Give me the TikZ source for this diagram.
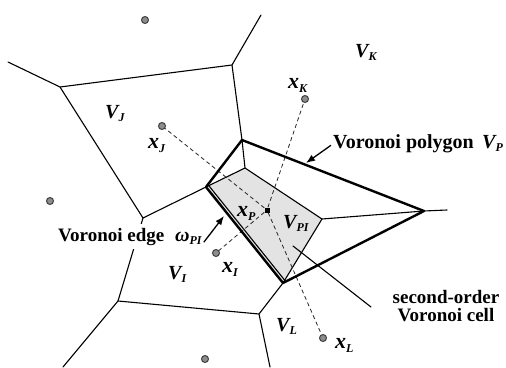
\documentclass[tikz,border=0pt]{standalone}
\usepackage{fontspec}
\setmainfont{Liberation Serif}
\usetikzlibrary{arrows.meta}

\providecommand{\vorEdgeWidth}{1.1pt}
\providecommand{\vorPolyWidth}{2.4pt}
\providecommand{\vorCellColor}{black!11}
\newcommand{\vsub}[1]{\raisebox{-0.4ex}{\fontsize{12}{12}\selectfont #1}}

\tikzset{
  voredge/.style={draw=black, line width=\vorEdgeWidth, line cap=round, line join=round},
  polyedge/.style={draw=black, line width=\vorPolyWidth, line cap=round, line join=round},
  siteline/.style={draw=black!85, line width=0.8pt, dash pattern=on 4pt off 3pt},
  sitedot/.style={circle, fill=black!45, draw=black!75, line width=1pt, inner sep=0pt, minimum size=7pt},
  centerdot/.style={rectangle, fill=black, inner sep=0pt, minimum size=5pt},
  sitelab/.style={font=\fontsize{22}{24}\selectfont\bfseries\itshape, inner sep=0pt, anchor=base west},
  celllab/.style={font=\fontsize{20}{22}\selectfont\bfseries\itshape, inner sep=0pt, anchor=base west},
  textlab/.style={font=\fontsize{19}{18}\selectfont\bfseries, inner sep=0pt, anchor=base west},
  pointer/.style={-{Latex[length=9pt,width=7pt]}, line width=1.3pt}
}

\begin{document}
\begin{tikzpicture}[x=1pt, y=-1pt]
\useasboundingbox (0,0) rectangle (506,367);
% Voronoi vertices
\coordinate (vA) at (8,62);
\coordinate (vB) at (60,87);
\coordinate (vC) at (232,65);
\coordinate (vD) at (261,15);
\coordinate (vE) at (242,140);
\coordinate (vF) at (143,218);
\coordinate (vG) at (206,187);
\coordinate (vH) at (118,301);
\coordinate (vI) at (63,367);
\coordinate (vJ) at (259,314);
\coordinate (vK) at (270,367);
\coordinate (vL) at (283,283);
\coordinate (vT) at (245,168);
\coordinate (vR) at (322,219);
\coordinate (vM) at (424,211);
\coordinate (vN) at (447,210);
% Second-order cell (shaded)
\fill[\vorCellColor] (vG) -- (vT) -- (vR) -- (vL) -- cycle;
% Thin Voronoi edges
\begin{scope}[voredge]
  \draw (vA) -- (vB) -- (vC) -- (vD);
  \draw (vC) -- (vE) -- (vT);
  \draw (vB) -- (vF) -- (vG);
  \draw (vF) -- (vH) -- (vI);
  \draw (vH) -- (vJ) -- (vK);
  \draw (vJ) -- (vL);
  \draw (vG) -- (vT) -- (vR) -- (vL);
  \draw (vR) -- (vM) -- (vN);
  \draw ([shift={(2.4,-1.9)}]vG) -- ([shift={(2.4,-1.9)}]vL);
\end{scope}
% Sites
\node[sitedot] (sTop) at (145,20) {};
\node[sitedot] (sLeft) at (50,201) {};
\node[sitedot] (sBot) at (205,359) {};
\node[sitedot] (sJ) at (162,126) {};
\node[sitedot] (sK) at (305,99) {};
\node[sitedot] (sI) at (216,253) {};
\node[sitedot] (sL) at (323,338) {};
\node[centerdot] (sP) at (267,210) {};
% Links from x_P to its neighbours
\begin{scope}[siteline]
  \draw (sP) -- (sJ);
  \draw (sP) -- (sK);
  \draw (sP) -- (sI);
  \draw (sP) -- (sL);
\end{scope}
% Voronoi polygon V_P
\draw[polyedge] (vG) -- (vE) -- (vM) -- (vL) -- cycle;
% Labels
\node[celllab] (labVK) at (355,57) {V\vsub{K}};
\node[celllab] (labVJ) at (105,118) {V\vsub{J}};
\node[celllab] (labVPI) at (283,228) {V\vsub{PI}};
\node[celllab] (labVI) at (168,279) {V\vsub{I}};
\node[celllab] (labVL) at (276,331) {V\vsub{L}};
\node[sitelab] (labxK) at (288,88) {x\vsub{K}};
\node[sitelab] (labxJ) at (148,148) {x\vsub{J}};
\node[sitelab] (labxP) at (237,216) {x\vsub{P}};
\node[sitelab] (labxI) at (222,272) {x\vsub{I}};
\node[sitelab] (labxL) at (335,348) {x\vsub{L}};
\node[textlab, font=\fontsize{20}{22}\selectfont\bfseries] (polylab) at (333,148) {Voronoi polygon};
\node[celllab] (labVP) at (482,148) {V\vsub{P}};
\node[textlab, fill=white, inner sep=4pt] (edgelab) at (54,241) {Voronoi edge};
\node[celllab] (labw) at (175,241) {ω\vsub{PI}};
\node[textlab, align=center, anchor=center] (celllab) at (446,306) {second-order\\Voronoi cell};
% Pointers
\coordinate (polytip) at (306,163);
\coordinate (edgetip) at (224,216);
\coordinate (cellin) at (293,246);
\coordinate (cellend) at (371,307);
\draw[pointer] ([xshift=-2pt,yshift=-2pt]polylab.west) -- (polytip);
\draw[pointer] ([xshift=2pt,yshift=-4pt]labw.east) -- (edgetip);
\draw[voredge] (cellin) -- (cellend);
\end{tikzpicture}
\end{document}
